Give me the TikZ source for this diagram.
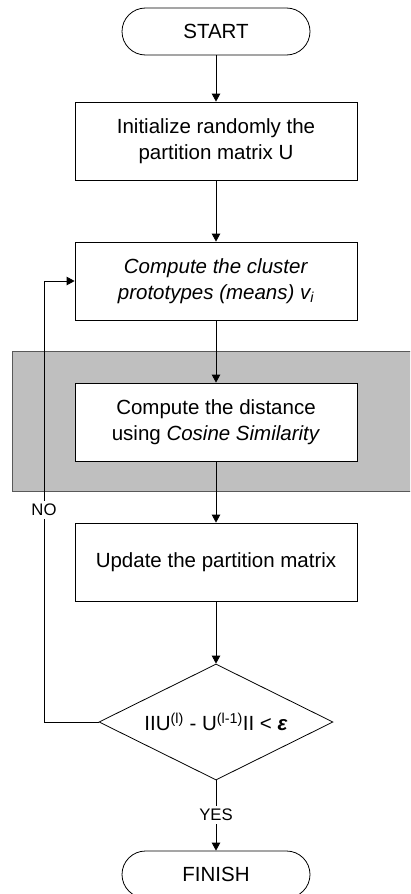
\documentclass[tikz,border=0pt]{standalone}
\usepackage{fontspec}
\setmainfont{Liberation Sans}
\usetikzlibrary{shapes.geometric,arrows.meta}

\tikzset{every node/.style={font=\fontsize{20.5}{26.5}\selectfont},
        box/.style={shape=rectangle,draw=black,fill=white,line width=0.8pt,
                minimum width=282pt,minimum height=78pt,align=center},
        term/.style={shape=rectangle,rounded corners=23.5pt,draw=black,fill=white,
                line width=0.8pt,minimum width=188pt,minimum height=47pt},
        test/.style={shape=diamond,draw=black,fill=white,line width=0.8pt,aspect=2,
                inner sep=0pt,minimum width=234pt,minimum height=116pt},
        lbl/.style={fill=white,inner sep=3pt,font=\fontsize{16.7}{20}\selectfont},
        flow/.style={draw=black,line width=0.8pt,-{Triangle[length=8pt,width=8.5pt]}}}

\begin{document}
\begin{tikzpicture}[x=1pt,y=-1pt]
        \clip (0,0) rectangle (410,894);
        \draw[fill=black!25,draw=black!65,line width=0.9pt] (12.7,351) rectangle (440,491.7);

        \node[term] (S) at (216,31.5) {START};
        \node[box] (B1) at (216,141) {Initialize randomly the\\partition matrix U};
        \node[box] (B2) at (216,281) {\textit{Compute the cluster}\\\textit{prototypes (means) v\textsubscript{i}}};
        \node[box] (B3) at (216,422) {Compute the distance\\using \textit{Cosine Similarity}};
        \node[box] (B4) at (216,562) {Update the partition matrix};
        \node[test] (D) at (216,722) {IIU\textsuperscript{(l)} - U\textsuperscript{(l-1)}II < \textbf{\textit{ε}}};
        \node[term] (F) at (216,874.5) {FINISH};
        \coordinate (K) at (44,722);

        \path [flow] (S) edge (B1);
        \path [flow] (B1) edge (B2);
        \path [flow] (B2) edge (B3);
        \path [flow] (B3) edge (B4);
        \path [flow] (B4) edge (D);
        \path [flow] (D) edge (F);
        \draw [flow] (D.west) -- (K) |- (B2.west);

        \node[lbl] (no) at (44,510) {NO};
        \node[lbl] (yes) at (216,815) {YES};
      \end{tikzpicture}
\end{document}
